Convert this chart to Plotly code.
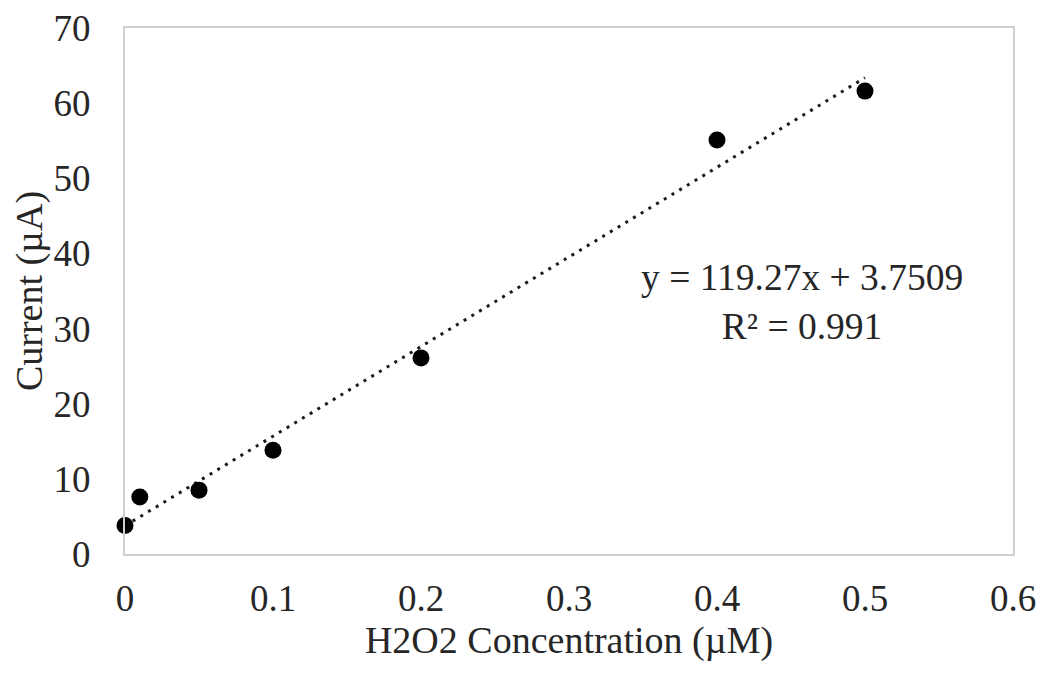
import plotly.graph_objects as go

concentration = [0, 0.01, 0.05, 0.1, 0.2, 0.4, 0.5]
current = [3.8, 7.6, 8.5, 13.8, 26.1, 55.1, 61.6]

slope = 119.27
intercept = 3.7509
r_squared = 0.991
fit_x = [min(concentration), max(concentration)]
fit_y = [slope * v + intercept for v in fit_x]

x_ticks = [0, 0.1, 0.2, 0.3, 0.4, 0.5, 0.6]
y_ticks = [0, 10, 20, 30, 40, 50, 60, 70]

FONT = "Liberation Serif"
TXT = "#262626"

fig = go.Figure()
fig.add_trace(go.Scatter(
    x=fit_x, y=fit_y, mode="lines",
    line=dict(color="#1a1a1a", width=3, dash="3px,6px"),
    hoverinfo="skip", showlegend=False, cliponaxis=False,
))
fig.add_trace(go.Scatter(
    x=concentration, y=current, mode="markers",
    marker=dict(color="#000000", size=17, symbol="circle"),
    showlegend=False, cliponaxis=False,
))

fig.add_annotation(
    x=0.4574, y=33.6, xref="x", yref="y",
    text=f"y = {slope}x + {intercept}<br>R² = {r_squared}",
    showarrow=False, align="center",
    font=dict(family=FONT, size=37.5, color=TXT),
)

fig.update_layout(
    width=1050, height=683,
    margin=dict(l=117, r=45, t=20, b=137, autoexpand=False),
    paper_bgcolor="white", plot_bgcolor="white",
    font=dict(family=FONT, size=37, color=TXT),
    xaxis=dict(
        range=[0, 0.6], tickvals=x_ticks, ticktext=[f"{v:g}" for v in x_ticks],
        showgrid=False, zeroline=False, showline=True, mirror=True,
        linecolor="#d0d0d0", linewidth=2, ticks="", ticklabelstandoff=11,
        ticklabeloverflow="allow", automargin=False,
        tickfont=dict(family=FONT, size=37, color=TXT),
        title=dict(text="H2O2 Concentration (µM)", standoff=6,
                   font=dict(family=FONT, size=38, color=TXT)),
    ),
    yaxis=dict(
        range=[0, 70], tickvals=y_ticks,
        showgrid=False, zeroline=False, showline=True, mirror=True,
        linecolor="#d0d0d0", linewidth=2, ticks="", ticklabelstandoff=25,
        ticklabeloverflow="allow", automargin=False,
        tickfont=dict(family=FONT, size=37, color=TXT),
        title=dict(text="Current (µA)", standoff=10,
                   font=dict(family=FONT, size=38, color=TXT)),
    ),
)

fig.write_html("out.html")
